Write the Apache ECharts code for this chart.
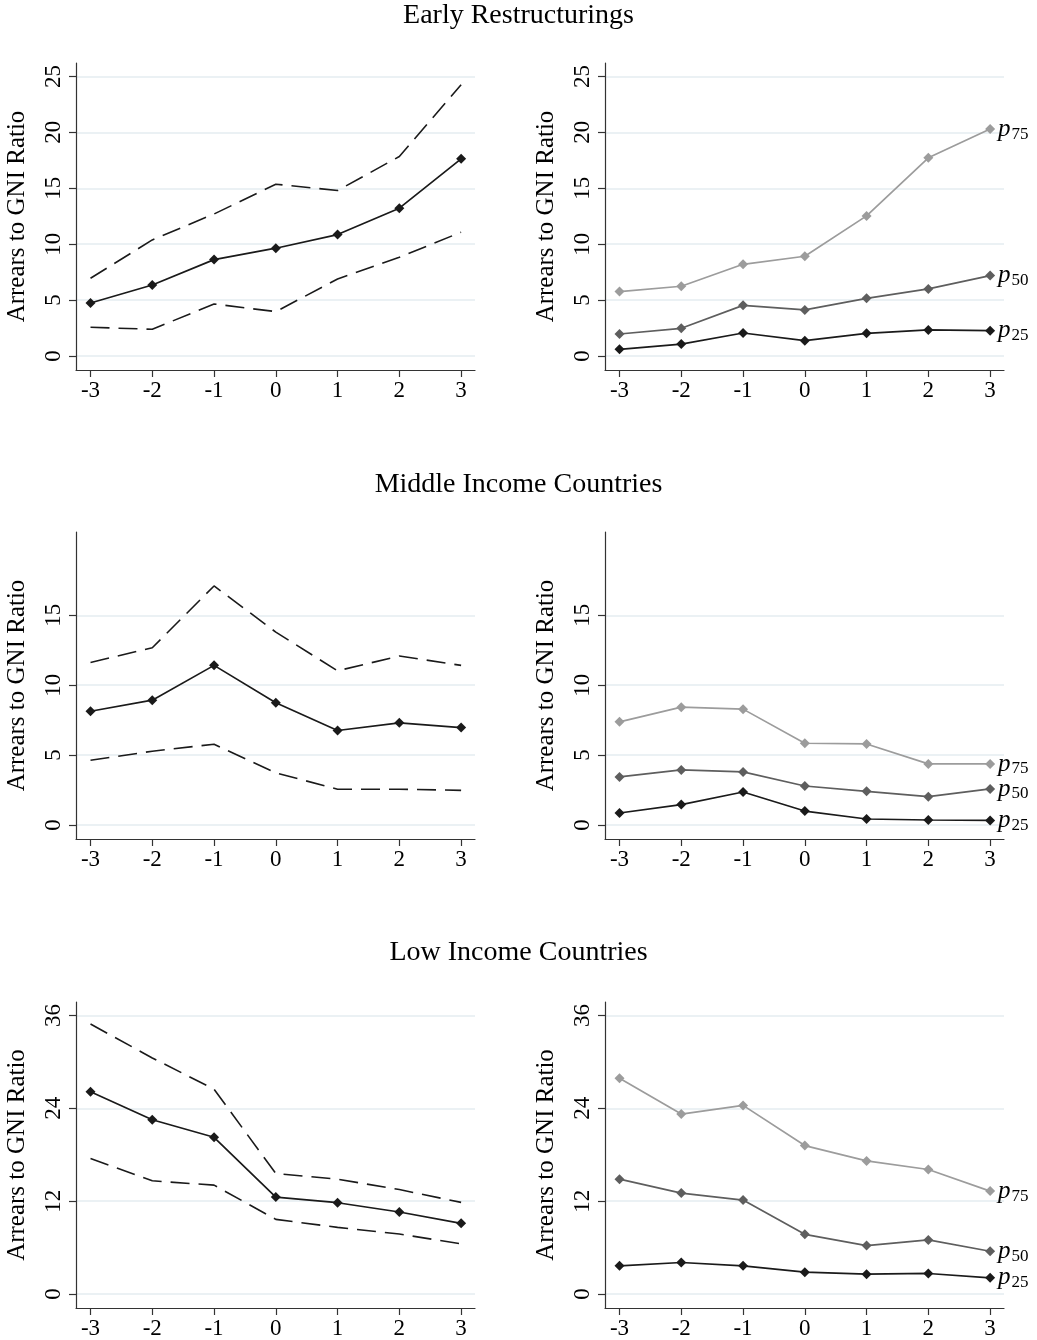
<!DOCTYPE html>
<html>
<head>
<meta charset="utf-8">
<title>Arrears to GNI Ratio</title>
<script src="https://cdn.jsdelivr.net/npm/echarts@6/dist/echarts.min.js"></script>
<style>
    html, body {margin: 0; padding: 0; background: #fff;}
    #main {width: 1037px; height: 1340px;}
</style>
</head>
<body>
<div id="main"></div>
<script>
// years relative to the restructuring
var years = [-3, -2, -1, 0, 1, 2, 3];

// Early restructurings: mean with bands, and percentiles
var earlyMean  = [4.74, 6.35, 8.62, 9.64, 10.86, 13.22, 17.63];
var earlyUpper = [6.95, 10.38, 12.7, 15.36, 14.8, 17.84, 24.25];
var earlyLower = [2.57, 2.39, 4.65, 3.97, 6.89, 8.83, 11.07];
var earlyP75 = [5.76, 6.24, 8.2, 8.92, 12.53, 17.72, 20.29];
var earlyP50 = [1.97, 2.48, 4.53, 4.12, 5.16, 6.0, 7.19];
var earlyP25 = [0.6, 1.07, 2.06, 1.37, 2.03, 2.33, 2.27];

// Middle income countries
var middleMean  = [8.14, 8.93, 11.42, 8.74, 6.76, 7.31, 6.97];
var middleUpper = [11.63, 12.68, 17.1, 13.8, 11.03, 12.09, 11.42];
var middleLower = [4.63, 5.28, 5.78, 3.73, 2.56, 2.56, 2.48];
var middleP75 = [7.38, 8.43, 8.29, 5.85, 5.8, 4.37, 4.37];
var middleP50 = [3.44, 3.94, 3.8, 2.79, 2.41, 2.03, 2.58];
var middleP25 = [0.86, 1.46, 2.36, 1.0, 0.43, 0.36, 0.33];

// Low income countries
var lowMean  = [26.13, 22.52, 20.25, 12.53, 11.8, 10.6, 9.14];
var lowUpper = [34.88, 30.5, 26.47, 15.57, 14.84, 13.5, 11.84];
var lowLower = [17.5, 14.63, 14.07, 9.65, 8.62, 7.76, 6.48];
var lowP75 = [27.88, 23.25, 24.37, 19.18, 17.2, 16.09, 13.3];
var lowP50 = [14.84, 13.04, 12.14, 7.72, 6.26, 6.99, 5.53];
var lowP25 = [3.65, 4.08, 3.65, 2.83, 2.57, 2.66, 2.1];

// tick labels of the y axes
var earlyTicks  = [0, 5, 10, 15, 20, 25];
var middleTicks = [0, 5, 10, 15];
var lowTicks    = [0, 12, 24, 36];
var rowTop = [25, 20, 36];

var rowTitles = ['Early Restructurings', 'Middle Income Countries', 'Low Income Countries'];

var serif = '"Liberation Serif", "Times New Roman", serif';
var rowGridTop = [63, 532, 1002];
var rowTitleTop = [2, 471, 939];
var colLeft = [76, 605];

function pair(ys)
{
    return years.map(function (x, i) { return [x, ys[i]]; });
}

function pLabel(num)
{
    return {
        show: true,
        distance: 8,
        formatter: '{p|p}{s|' + num + '}',
        rich: {
            p: {fontFamily: serif, fontStyle: 'italic', fontSize: 25, color: '#000'},
            s: {fontFamily: serif, fontSize: 17, color: '#000', padding: [10, 0, 0, 1]}
        }
    };
}

var grids = [], xAxes = [], yAxes = [], series = [], titles = [];
var rows = [
    {ticks: earlyTicks,  mean: earlyMean,  up: earlyUpper,  lo: earlyLower,  p75: earlyP75,  p50: earlyP50,  p25: earlyP25},
    {ticks: middleTicks, mean: middleMean, up: middleUpper, lo: middleLower, p75: middleP75, p50: middleP50, p25: middleP25},
    {ticks: lowTicks,    mean: lowMean,    up: lowUpper,    lo: lowLower,    p75: lowP75,    p50: lowP50,    p25: lowP25}
];

for (var r = 0; r < 3; r++)
{
    titles.push({
        text: rowTitles[r],
        left: 'center',
        top: rowTitleTop[r],
        padding: 0,
        textStyle: {fontFamily: serif, fontSize: 28, fontWeight: 'normal', color: '#000'}
    });
    for (var c = 0; c < 2; c++)
    {
        var g = r * 2 + c;
        grids.push({left: colLeft[c], top: rowGridTop[r], width: 399, height: 307});
        xAxes.push({
            type: 'value',
            gridIndex: g,
            min: -3.235,
            max: 3.225,
            axisLine: {show: true, onZero: false, lineStyle: {color: '#333', width: 1.2}},
            axisTick: {show: true, length: 7, customValues: years, lineStyle: {color: '#333', width: 1.2}},
            axisLabel: {customValues: years, margin: 9, fontFamily: serif, fontSize: 23, color: '#000'},
            splitLine: {show: false}
        });
        var yTop = rowTop[r];
        yAxes.push({
            type: 'value',
            gridIndex: g,
            min: -yTop * 0.05,
            max: yTop * 1.048,
            name: 'Arrears to GNI Ratio',
            nameLocation: 'middle',
            nameGap: 46,
            nameTextStyle: {fontFamily: serif, fontSize: 25, color: '#000'},
            axisLine: {show: true, onZero: false, lineStyle: {color: '#333', width: 1.2}},
            axisTick: {show: true, length: 7, customValues: rows[r].ticks, lineStyle: {color: '#333', width: 1.2}},
            axisLabel: {customValues: rows[r].ticks, rotate: 90, margin: 11, fontFamily: serif, fontSize: 23, color: '#000'},
            splitLine: {show: true, lineStyle: {color: '#e4edf0', width: 1.5}}
        });

        if (c == 0)
        {
            // mean with the two dashed bands
            series.push({
                type: 'line', xAxisIndex: g, yAxisIndex: g, data: pair(rows[r].up),
                symbol: 'none', lineStyle: {color: '#1a1a1a', width: 1.6, type: [19, 9]}, z: 3
            });
            series.push({
                type: 'line', xAxisIndex: g, yAxisIndex: g, data: pair(rows[r].lo),
                symbol: 'none', lineStyle: {color: '#1a1a1a', width: 1.6, type: [19, 9]}, z: 3
            });
            series.push({
                type: 'line', xAxisIndex: g, yAxisIndex: g, data: pair(rows[r].mean),
                symbol: 'diamond', symbolSize: 10,
                itemStyle: {color: '#1a1a1a'}, lineStyle: {color: '#1a1a1a', width: 1.7}, z: 4
            });
        }
        else
        {
            var pct = [[rows[r].p75, '#9c9c9c', '75'], [rows[r].p50, '#5e5e5e', '50'], [rows[r].p25, '#1a1a1a', '25']];
            for (var k = 0; k < 3; k++)
            {
                series.push({
                    type: 'line', xAxisIndex: g, yAxisIndex: g, data: pair(pct[k][0]),
                    symbol: 'diamond', symbolSize: 10,
                    itemStyle: {color: pct[k][1]}, lineStyle: {color: pct[k][1], width: 1.7},
                    endLabel: pLabel(pct[k][2]), z: 4
                });
            }
        }
    }
}

var myChart = echarts.init(document.getElementById('main'));
myChart.setOption({
    animation: false,
    backgroundColor: '#fff',
    title: titles,
    grid: grids,
    xAxis: xAxes,
    yAxis: yAxes,
    series: series
});
</script>
</body>
</html>
